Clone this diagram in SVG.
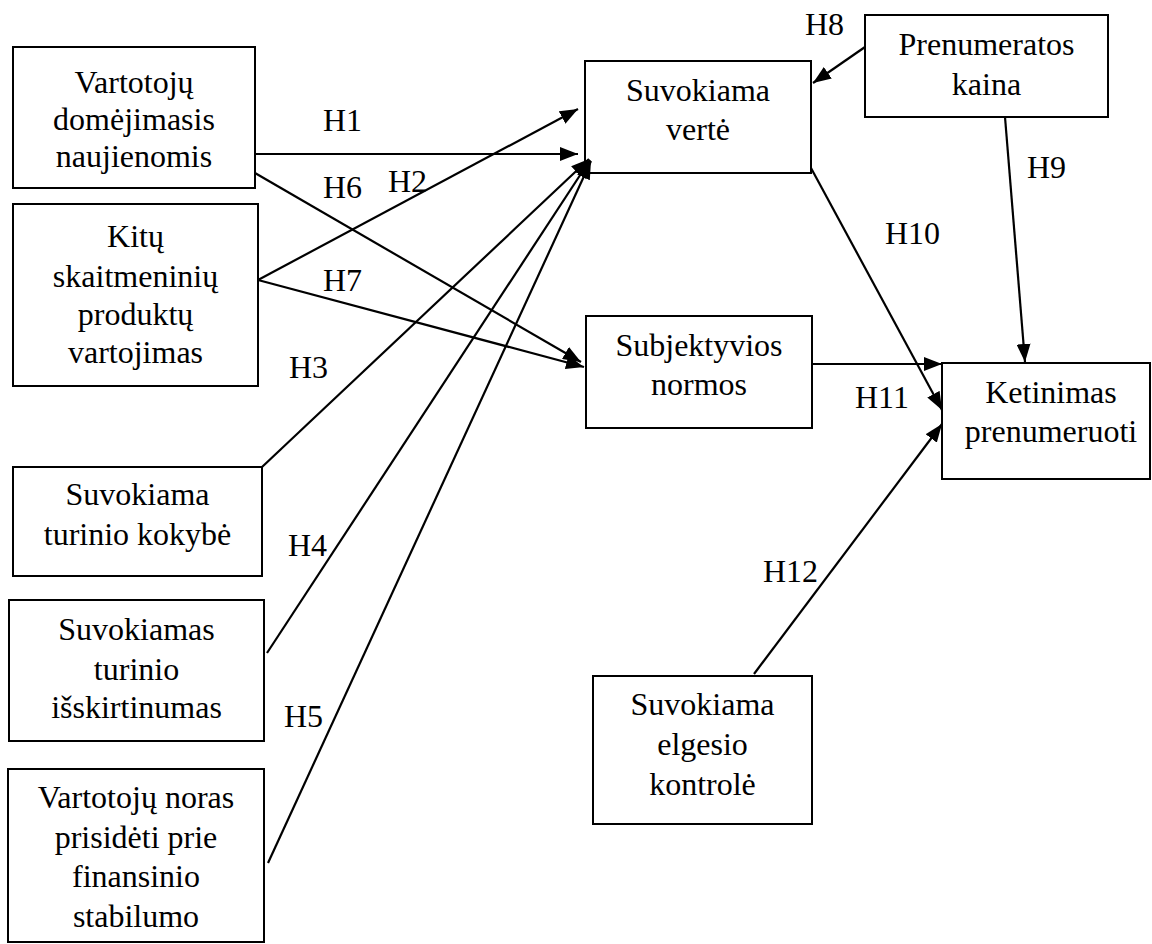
<svg xmlns="http://www.w3.org/2000/svg" width="1152" height="944" viewBox="0 0 1152 944">
<style>
.box{fill:#fff;stroke:#000;stroke-width:2}
text{font-family:'Liberation Serif','DejaVu Serif','Times New Roman',serif;font-size:32px;fill:#000}
.c{text-anchor:middle}
.e{stroke:#000;stroke-width:2.2;fill:none;marker-end:url(#ah)}
</style>
<defs>
<marker id="ah" viewBox="0 0 18 14" refX="18" refY="7" markerWidth="18" markerHeight="14" markerUnits="userSpaceOnUse" orient="auto">
<path d="M0,0 L18,7 L0,14 z" fill="#000"/>
</marker>
</defs>
<rect width="1152" height="944" fill="#fff"/>
<g font-family="Liberation Serif, DejaVu Serif, serif" font-size="32">
<g id="n1"><rect class="box" x="13" y="47" width="242" height="141"/>
<text class="c" x="134" y="93">Vartotojų</text><text class="c" x="134" y="130">domėjimasis</text><text class="c" x="134" y="167">naujienomis</text></g>
<g id="n2"><rect class="box" x="13" y="204" width="245" height="182"/>
<text class="c" x="135.5" y="247">Kitų</text><text class="c" x="135.5" y="287">skaitmeninių</text><text class="c" x="135.5" y="325">produktų</text><text class="c" x="135.5" y="363">vartojimas</text></g>
<g id="n3"><rect class="box" x="13" y="467" width="249" height="109"/>
<text class="c" x="137.5" y="505">Suvokiama</text><text class="c" x="137.5" y="545">turinio kokybė</text></g>
<g id="n4"><rect class="box" x="9" y="600" width="255" height="141"/>
<text class="c" x="136.5" y="640">Suvokiamas</text><text class="c" x="136.5" y="680">turinio</text><text class="c" x="136.5" y="718">išskirtinumas</text></g>
<g id="n5"><rect class="box" x="8" y="769" width="256" height="173"/>
<text class="c" x="136" y="808">Vartotojų noras</text><text class="c" x="136" y="848">prisidėti prie</text><text class="c" x="136" y="887">finansinio</text><text class="c" x="136" y="927">stabilumo</text></g>
<g id="n6"><rect class="box" x="585" y="61" width="226" height="112"/>
<text class="c" x="698" y="101">Suvokiama</text><text class="c" x="698" y="140">vertė</text></g>
<g id="n7"><rect class="box" x="865" y="15" width="243" height="102"/>
<text class="c" x="986.5" y="55">Prenumeratos</text><text class="c" x="986.5" y="95">kaina</text></g>
<g id="n8"><rect class="box" x="586" y="316" width="226" height="112"/>
<text class="c" x="699" y="356">Subjektyvios</text><text class="c" x="699" y="395">normos</text></g>
<g id="n9"><rect class="box" x="942" y="363" width="208" height="116"/>
<text class="c" x="1051" y="403">Ketinimas</text><text class="c" x="1051" y="442">prenumeruoti</text></g>
<g id="n10"><rect class="box" x="593" y="676" width="219" height="148"/>
<text class="c" x="702.5" y="715">Suvokiama</text><text class="c" x="702.5" y="755">elgesio</text><text class="c" x="702.5" y="795">kontrolė</text></g>
<g id="connectors">
<line class="e" x1="255" y1="154" x2="578" y2="154"/>
<line class="e" x1="258" y1="280" x2="578" y2="109"/>
<line class="e" x1="262" y1="467" x2="589" y2="159"/>
<line class="e" x1="267" y1="653" x2="590" y2="160"/>
<line class="e" x1="268" y1="863" x2="591" y2="161"/>
<line class="e" x1="255" y1="173" x2="581" y2="362"/>
<line class="e" x1="258" y1="280" x2="584" y2="367"/>
<line class="e" x1="865" y1="47" x2="813" y2="83"/>
<line class="e" x1="1005" y1="117" x2="1025" y2="362"/>
<line class="e" x1="811" y1="168" x2="942" y2="410"/>
<line class="e" x1="812" y1="364" x2="942" y2="364"/>
<line class="e" x1="754" y1="674" x2="942" y2="424"/>
</g>
<g id="labels">
<text x="323" y="131">H1</text>
<text x="388" y="192">H2</text>
<text x="289" y="378">H3</text>
<text x="288" y="556">H4</text>
<text x="284" y="727">H5</text>
<text x="323" y="198">H6</text>
<text x="323" y="291">H7</text>
<text x="805" y="35">H8</text>
<text x="1027" y="178">H9</text>
<text x="885" y="244">H10</text>
<text x="855" y="408">H11</text>
<text x="763" y="582">H12</text>
</g>
</g>
</svg>
